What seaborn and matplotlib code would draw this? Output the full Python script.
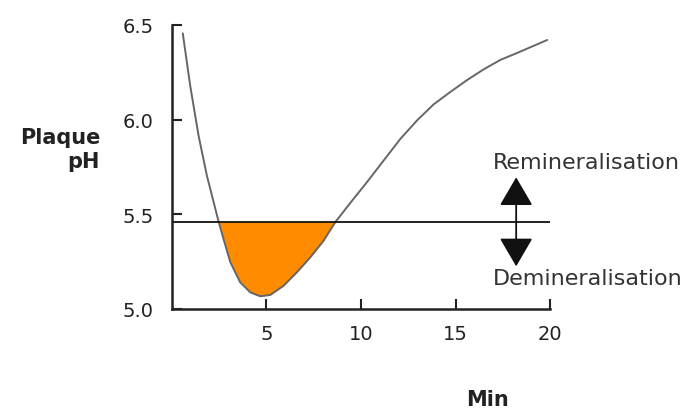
import matplotlib
matplotlib.use('Agg')
import seaborn as sns
import matplotlib.pyplot as plt

# plaque pH curve
minutes = [0.59, 0.98, 1.42, 1.86, 2.48, 2.74, 3.1, 3.62, 4.15, 4.68, 5.21, 5.92,
           6.62, 7.33, 8.03, 8.65, 9.44, 10.37, 11.21, 12.1, 12.97, 13.84, 14.74,
           15.63, 16.5, 17.37, 18.26, 19.84]
ph = [6.455, 6.18, 5.917, 5.705, 5.462, 5.37, 5.247, 5.141, 5.088, 5.067, 5.074, 5.123,
      5.194, 5.273, 5.361, 5.459, 5.56, 5.676, 5.785, 5.9, 5.996, 6.08, 6.147,
      6.21, 6.266, 6.315, 6.352, 6.42]
critical_ph = 5.46
x_ticks = [5, 10, 15, 20]
y_ticks = [5.0, 5.5, 6.0, 6.5]

sns.set_style('ticks')
plt.rcParams['font.family'] = ['DejaVu Sans']

fig = plt.figure(figsize=(6.81, 4.10), dpi=100)
ax = fig.add_axes([0.252, 0.244, 0.556, 0.693])

sns.lineplot(x=minutes, y=ph, color='#666666', linewidth=1.4, ax=ax)
ax.axhline(critical_ph, color='#111111', linewidth=1.3)
ax.fill_between(minutes, ph, critical_ph, where=[p <= critical_ph for p in ph],
                interpolate=True, color='#ff8c00', linewidth=0)

ax.set_xlim(0, 20)
ax.set_ylim(5.0, 6.5)
ax.set_xticks(x_ticks)
ax.set_yticks(y_ticks)
ax.set_yticklabels([f'{v:.1f}' for v in y_ticks])
ax.tick_params(direction='in', length=7, width=1.5, labelsize=14, pad=13, colors='#222222')
ax.tick_params(axis='x', pad=11)
for side in ['left', 'bottom']:
    ax.spines[side].set_linewidth(1.8)
    ax.spines[side].set_color('#222222')
sns.despine(ax=ax)

# double arrow with the two labels
ax.annotate('', xy=(18.2, 5.695), xytext=(18.2, 5.225),
            arrowprops=dict(arrowstyle='<|-|>,head_length=1.8,head_width=1.05',
                            color='#111111', lw=1.3, mutation_scale=10,
                            shrinkA=0, shrinkB=0),
            annotation_clip=False)
ax.text(16.95, 5.778, 'Remineralisation', fontsize=16, color='#333333', ha='left', va='center')
ax.text(16.95, 5.164, 'Demineralisation', fontsize=16, color='#333333', ha='left', va='center')

fig.text(100 / 681, 1 - 150 / 410, 'Plaque\npH', fontsize=15, fontweight='bold',
         color='#222222', ha='right', va='center', multialignment='right')
fig.text(487 / 681, 1 - 400 / 410, 'Min', fontsize=15, fontweight='bold',
         color='#222222', ha='center', va='center')

fig.savefig('out.png', dpi=100)
